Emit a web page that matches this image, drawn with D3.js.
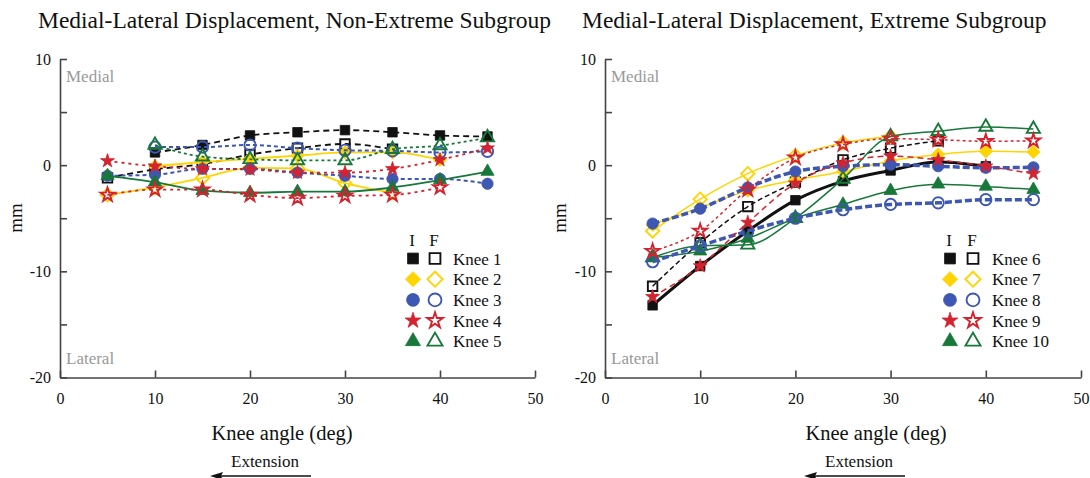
<!DOCTYPE html>
<html>
<head>
<meta charset="utf-8">
<script src="https://cdn.jsdelivr.net/npm/d3@7"></script>
<style>
    body { margin: 0; background: #fff; }
    text { font-family: "Liberation Serif", "Times New Roman", serif; }
</style>
</head>
<body>
<svg id="chart" width="1090" height="478"></svg>
<script>
// knee flexion angles (deg)
const angles = [5, 10, 15, 20, 25, 30, 35, 40, 45];

// non-extreme subgroup, medial-lateral displacement (mm), I = initial, F = final
const knee1I = [null, 1.2, 1.9, 2.8, 3.1, 3.3, 3.1, 2.8, 2.7];
const knee1F = [-1.2, -0.4, 0.1, 1.0, 1.6, 2.0, 1.5, null, null];
const knee2I = [null, -0.1, 0.3, 0.6, 0.9, 1.2, 1.2, 0.5, null];
const knee2F = [-2.8, -2.1, -1.2, -0.25, -0.3, -1.7, -2.6, null, null];
const knee3I = [-1.0, -0.9, -0.35, -0.35, -0.7, -1.0, -1.3, -1.3, -1.75];
const knee3F = [null, 1.7, 1.7, 1.9, 1.6, 1.4, 1.35, 1.2, 1.3];
const knee4I = [0.4, -0.1, -0.35, -0.4, -0.7, -0.7, -0.35, 0.5, 1.6];
const knee4F = [-2.8, -2.3, -2.3, -2.8, -3.1, -2.9, -2.8, -2.1, null];
const knee5I = [-1.0, -1.6, -2.4, -2.6, -2.5, -2.5, -2.1, -1.4, -0.6];
const knee5F = [null, 1.9, 0.8, 0.55, 0.45, 0.45, 1.5, 1.85, 2.6];

// extreme subgroup
const knee6I = [-13.2, -9.5, -6.2, -3.3, -1.5, -0.5, 0.3, -0.1, null];
const knee6F = [-11.4, -7.3, -3.9, -1.6, 0.5, 1.6, 2.3, null, null];
const knee7I = [-5.6, -4.0, -2.4, -1.4, -0.6, 0.4, 1.0, 1.3, 1.25];
const knee7F = [-6.2, -3.2, -0.8, 0.9, 2.1, 2.7, null, null, null];
const knee8I = [-5.5, -4.1, -2.1, -0.6, -0.1, 0.05, -0.1, -0.25, -0.2];
const knee8F = [-9.1, -7.6, -6.2, -5.0, -4.2, -3.7, -3.55, -3.25, -3.25];
const knee9I = [-12.4, -9.5, -5.4, -1.7, 0.2, 0.85, 0.5, -0.1, -0.8];
const knee9F = [-8.1, -6.2, -2.3, 0.7, 1.95, 2.5, 2.4, 2.25, 2.3];
const knee10I = [-8.7, -8.1, -6.9, -5.0, -3.7, -2.4, -1.8, -2.0, -2.3];
const knee10F = [-8.7, -7.6, -7.5, -5.0, -1.3, 2.7, 3.2, 3.6, 3.4];

const xTicks = [0, 10, 20, 30, 40, 50];
const yTicks = [-20, -15, -10, -5, 0, 5, 10];

const colors = {
    black: "#111111",
    yellow: "#FFD400",
    blue: "#3D57B3",
    red: "#D3232E",
    green: "#17783A"
};

const svg = d3.select("#chart");

const shapes = {
    square: {type: d3.symbolSquare, size: 90, rotate: 0},
    diamond: {type: d3.symbolSquare, size: 88, rotate: 45},
    circle: {type: d3.symbolCircle, size: 100, rotate: 0},
    star: {type: d3.symbolStar, size: 60, rotate: 0},
    triangle: {type: d3.symbolTriangle, size: 75, rotate: 0}
};

function drawMarker(g, shape, color, filled, x, y, scale = 1) {
    const s = shapes[shape];
    g.append("path")
        .attr("d", d3.symbol(s.type, s.size * scale)())
        .attr("transform", `translate(${x},${y}) rotate(${s.rotate})`)
        .attr("fill", filled ? color : "none")
        .attr("stroke", color)
        .attr("stroke-width", filled ? 0.8 : 1.9);
}

function drawPanel(opts) {
    const x = d3.scaleLinear().domain([0, 50]).range([opts.x0, opts.x1]);
    const y = d3.scaleLinear().domain([-20, 10]).range([377.5, 59]);

    const g = svg.append("g");

    g.append("text")
        .attr("x", opts.titleX)
        .attr("y", 28)
        .attr("font-size", "23.5px")
        .attr("fill", "#111")
        .text(opts.title);

    const yAxis = g.append("g")
        .attr("transform", `translate(${opts.x0},0)`)
        .call(d3.axisLeft(y).tickValues(yTicks).tickSizeInner(-7).tickSizeOuter(0).tickPadding(9)
            .tickFormat(d => d % 10 === 0 ? String(d) : ""));

    const xAxis = g.append("g")
        .attr("transform", `translate(0,${y(-20)})`)
        .call(d3.axisBottom(x).tickValues(xTicks).tickSizeInner(-7).tickSizeOuter(0).tickPadding(15)
            .tickFormat(d => String(d)));

    [yAxis, xAxis].forEach(a => {
        a.selectAll("path, line").attr("stroke", "#444").attr("stroke-width", 1.6);
        a.selectAll("text").attr("font-size", "16px").attr("fill", "#111")
            .style("font-family", '"Liberation Serif", serif');
    });

    g.append("text")
        .attr("x", opts.x0 + 6)
        .attr("y", 82)
        .attr("font-size", "17px")
        .attr("fill", "#999")
        .text("Medial");

    g.append("text")
        .attr("x", opts.x0 + 6)
        .attr("y", 364)
        .attr("font-size", "17px")
        .attr("fill", "#999")
        .text("Lateral");

    g.append("text")
        .attr("transform", `translate(${opts.mmX},218) rotate(-90)`)
        .attr("text-anchor", "middle")
        .attr("font-size", "19px")
        .attr("fill", "#111")
        .text("mm");

    g.append("text")
        .attr("x", opts.labelX)
        .attr("y", 440)
        .attr("text-anchor", "middle")
        .attr("font-size", "20.5px")
        .attr("fill", "#111")
        .text("Knee angle (deg)");

    g.append("text")
        .attr("x", opts.labelX - 17)
        .attr("y", 467)
        .attr("text-anchor", "middle")
        .attr("font-size", "17px")
        .attr("fill", "#111")
        .text("Extension");

    const ax = opts.labelX - 72;
    g.append("line")
        .attr("x1", ax + 10).attr("x2", ax + 101)
        .attr("y1", 476).attr("y2", 476)
        .attr("stroke", "#111").attr("stroke-width", 1.5);
    g.append("path")
        .attr("d", `M${ax},476 L${ax + 13},472 L${ax + 11},476 L${ax + 13},480 Z`)
        .attr("fill", "#111");

    const line = d3.line()
        .defined(d => d.v !== null)
        .x(d => x(d.a))
        .y(d => y(d.v))
        .curve(d3.curveMonotoneX);

    opts.series.forEach(s => {
        const pts = angles.map((a, i) => ({a: a, v: s.values[i]}));
        g.append("path")
            .attr("d", line(pts))
            .attr("fill", "none")
            .attr("stroke", s.color)
            .attr("stroke-width", s.width)
            .attr("stroke-dasharray", s.dash || null);
        const mg = g.append("g");
        pts.filter(d => d.v !== null).forEach(d => {
            drawMarker(mg, s.shape, s.color, s.filled, x(d.a), y(d.v));
        });
    });

    // legend
    const lg = g.append("g");
    lg.append("text").attr("x", opts.legI).attr("y", 246).attr("text-anchor", "middle")
        .attr("font-size", "17px").attr("fill", "#111").text("I");
    lg.append("text").attr("x", opts.legF).attr("y", 246).attr("text-anchor", "middle")
        .attr("font-size", "17px").attr("fill", "#111").text("F");
    opts.legend.forEach((d, i) => {
        const cy = 258.5 + i * 20.7;
        drawMarker(lg, d.shape, d.color, true, opts.legI + 1, cy, 1.3);
        drawMarker(lg, d.shape, d.color, false, opts.legF + 1, cy, 1.3);
        lg.append("text")
            .attr("x", opts.legText)
            .attr("y", cy + 6)
            .attr("font-size", "17px")
            .attr("fill", "#111")
            .text(d.name);
    });
}

drawPanel({
    title: "Medial-Lateral Displacement, Non-Extreme Subgroup",
    titleX: 38, x0: 60, x1: 535, mmX: 22, labelX: 282,
    legI: 412, legF: 434, legText: 453,
    series: [
        {values: knee1F, color: colors.black, shape: "square", filled: false, width: 1.8, dash: "6,4"},
        {values: knee1I, color: colors.black, shape: "square", filled: true, width: 1.8, dash: "6,4"},
        {values: knee2F, color: colors.yellow, shape: "diamond", filled: false, width: 1.8},
        {values: knee2I, color: colors.yellow, shape: "diamond", filled: true, width: 1.8},
        {values: knee3F, color: colors.blue, shape: "circle", filled: false, width: 2, dash: "4,3"},
        {values: knee3I, color: colors.blue, shape: "circle", filled: true, width: 2, dash: "4,3"},
        {values: knee5F, color: colors.green, shape: "triangle", filled: false, width: 1.8, dash: "3,3"},
        {values: knee5I, color: colors.green, shape: "triangle", filled: true, width: 1.8},
        {values: knee4F, color: colors.red, shape: "star", filled: false, width: 1.8, dash: "3,4"},
        {values: knee4I, color: colors.red, shape: "star", filled: true, width: 1.8, dash: "3,4"}
    ],
    legend: [
        {name: "Knee 1", shape: "square", color: colors.black},
        {name: "Knee 2", shape: "diamond", color: colors.yellow},
        {name: "Knee 3", shape: "circle", color: colors.blue},
        {name: "Knee 4", shape: "star", color: colors.red},
        {name: "Knee 5", shape: "triangle", color: colors.green}
    ]
});

drawPanel({
    title: "Medial-Lateral Displacement, Extreme Subgroup",
    titleX: 582, x0: 605, x1: 1081, mmX: 566, labelX: 876,
    legI: 949, legF: 972, legText: 992,
    series: [
        {values: knee6I, color: colors.black, shape: "square", filled: true, width: 3},
        {values: knee6F, color: colors.black, shape: "square", filled: false, width: 1.5, dash: "5,3"},
        {values: knee7I, color: colors.yellow, shape: "diamond", filled: true, width: 1.5},
        {values: knee7F, color: colors.yellow, shape: "diamond", filled: false, width: 1.5},
        {values: knee10I, color: colors.green, shape: "triangle", filled: true, width: 1.5},
        {values: knee10F, color: colors.green, shape: "triangle", filled: false, width: 1.5},
        {values: knee8I, color: colors.blue, shape: "circle", filled: true, width: 3.5, dash: "7,3"},
        {values: knee8F, color: colors.blue, shape: "circle", filled: false, width: 3.5, dash: "7,3"},
        {values: knee9I, color: colors.red, shape: "star", filled: true, width: 1.5, dash: "6,4"},
        {values: knee9F, color: colors.red, shape: "star", filled: false, width: 1.5, dash: "3,3"}
    ],
    legend: [
        {name: "Knee 6", shape: "square", color: colors.black},
        {name: "Knee 7", shape: "diamond", color: colors.yellow},
        {name: "Knee 8", shape: "circle", color: colors.blue},
        {name: "Knee 9", shape: "star", color: colors.red},
        {name: "Knee 10", shape: "triangle", color: colors.green}
    ]
});
</script>
</body>
</html>
